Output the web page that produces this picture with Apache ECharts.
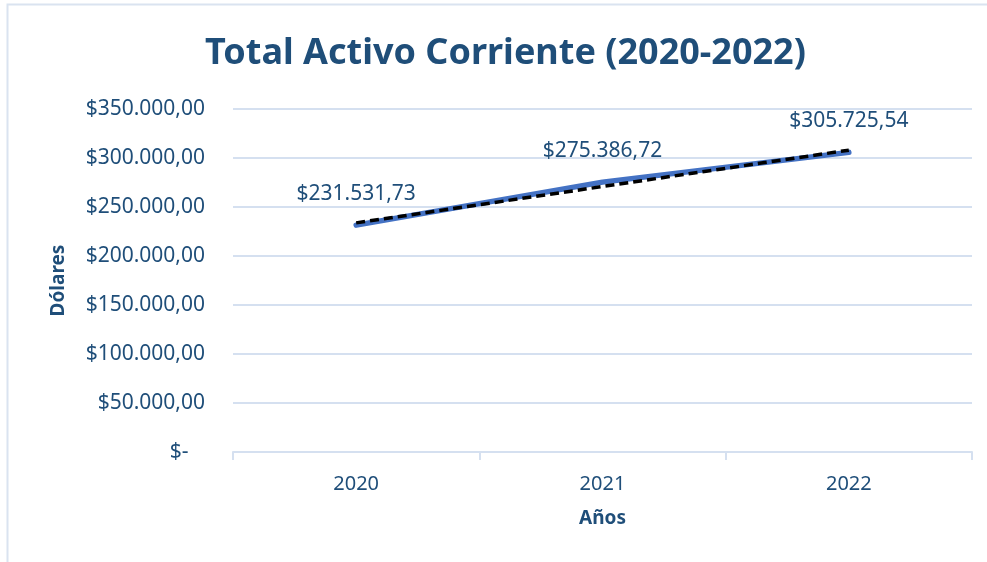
<!DOCTYPE html>
<html>
<head>
<meta charset="utf-8">
<script src="https://cdn.jsdelivr.net/npm/echarts@6/dist/echarts.min.js"></script>
<style>
  html, body { margin: 0; padding: 0; background: #fff; }
  #chart { width: 987px; height: 562px; }
</style>
</head>
<body>
<div id="chart"></div>
<script>
var years = ['2020', '2021', '2022'];
var activo = [231531.73, 275386.72, 305725.54];
// linea de tendencia
var tendencia = [233800, 270900, 308000];
var yTicks = [0, 50000, 100000, 150000, 200000, 250000, 300000, 350000];

var textColor = '#1f4e79';
var font = 'Noto Sans';

function money(v, dec) {
  if (v === 0) return '$-   ';
  var parts = v.toFixed(dec).split('.');
  var ent = parts[0].replace(/\B(?=(\d{3})+(?!\d))/g, '.');
  return '$' + ent + (dec ? ',' + parts[1] : '');
}

var chart = echarts.init(document.getElementById('chart'));

var option = {
  backgroundColor: '#fff',
  animation: false,
  title: {
    text: 'Total Activo Corriente (2020-2022)',
    left: 200,
    top: 31,
    textStyle: { color: textColor, fontFamily: font, fontSize: 36, fontWeight: 'bold' }
  },
  graphic: [{
    type: 'rect',
    shape: { x: 7.5, y: 4.5, width: 1100, height: 700 },
    style: { fill: 'none', stroke: '#dae3f0', lineWidth: 2 },
    silent: true
  }],
  grid: { left: 233, right: 15, top: 109, bottom: 110 },
  xAxis: {
    type: 'category',
    data: years,
    boundaryGap: true,
    name: 'Años',
    nameLocation: 'middle',
    nameGap: 57,
    nameTextStyle: { color: textColor, fontFamily: font, fontSize: 19, fontWeight: 'bold' },
    axisLine: { lineStyle: { color: '#d5e0f0', width: 2 } },
    axisTick: { show: true, length: 8, lineStyle: { color: '#d5e0f0', width: 2 } },
    axisLabel: { color: textColor, fontFamily: font, fontSize: 20, margin: 22 }
  },
  yAxis: {
    type: 'value',
    min: yTicks[0],
    max: yTicks[yTicks.length - 1],
    interval: yTicks[1] - yTicks[0],
    name: 'Dólares',
    nameLocation: 'middle',
    nameGap: 165,
    nameRotate: 90,
    nameTextStyle: { color: textColor, fontFamily: font, fontSize: 19, fontWeight: 'bold' },
    axisLine: { show: false },
    axisTick: { show: false },
    splitLine: { lineStyle: { color: '#d5e0f0', width: 2 } },
    axisLabel: {
      color: textColor, fontFamily: font, fontSize: 21, margin: 28,
      formatter: function (v) { return money(v, 2); }
    }
  },
  series: [{
    name: 'Total Activo Corriente',
    type: 'line',
    data: activo,
    symbol: 'circle',
    symbolSize: 1,
    showSymbol: true,
    itemStyle: { color: 'rgba(0,0,0,0)' },
    lineStyle: { color: '#4472c4', width: 5.5, cap: 'round' },
    label: {
      show: true,
      position: 'top',
      distance: 20,
      color: textColor,
      fontFamily: font,
      fontSize: 21,
      formatter: function (p) { return money(p.value, 2); }
    },
    z: 2
  }, {
    name: 'Tendencia',
    type: 'line',
    data: tendencia,
    symbol: 'none',
    lineStyle: { color: '#000', width: 3.5, type: [9, 5] },
    z: 3
  }]
};
chart.setOption(option);
</script>
</body>
</html>
